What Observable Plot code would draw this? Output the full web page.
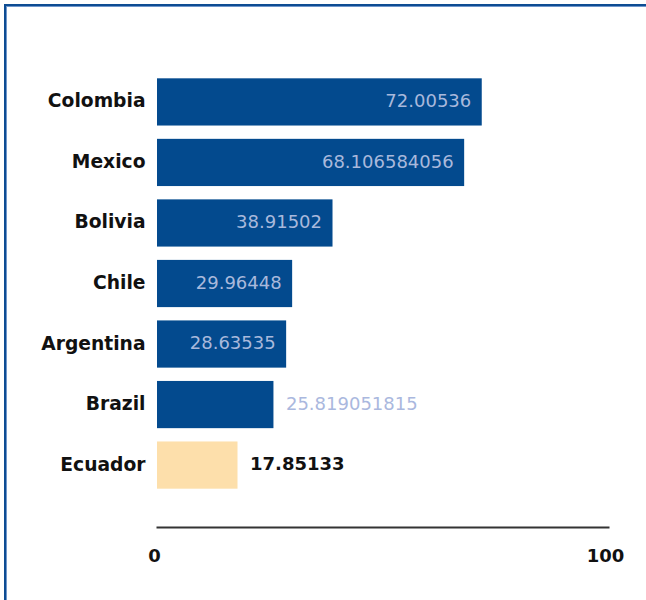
<!DOCTYPE html>
<html>
<head>
<meta charset="utf-8">
<script src="https://cdn.jsdelivr.net/npm/d3@7"></script>
<script src="https://cdn.jsdelivr.net/npm/@observablehq/plot@0.6"></script>
<style>
  html, body { margin: 0; padding: 0; background: #fff; }
  #wrap { position: relative; width: 646px; height: 600px; overflow: hidden; }
  #frame { position: absolute; left: 4px; top: 4px; width: 700px; height: 700px;
           border-top: 2px solid #0d4c93; border-left: 2px solid #0d4c93;
           box-shadow: inset 1px 1px 0 #6f97cc; }
  #chart { position: absolute; left: 0; top: 0; }
</style>
</head>
<body>
<div id="wrap"><div id="frame"></div><div id="chart"></div></div>
<script>
const categories = ["Colombia", "Mexico", "Bolivia", "Chile", "Argentina", "Brazil", "Ecuador"];
const values = [72.00536, 68.106584056, 38.91502, 29.96448, 28.63535, 25.819051815, 17.85133];
const highlight = "Ecuador";
const xTicks = [0, 100];
const xDomain = [0, 100];

const barColor = "#034a8e";
const highlightColor = "#fddfab";

const W = 646, H = 600, mL = 157, mR = 38;
const px = d3.scaleLinear(xDomain, [mL, W - mR]);

const data = categories.map((c, i) => ({
  country: c,
  value: values[i],
  label: String(values[i]),
  hi: c === highlight
}));
// label fits inside bar if bar is wide enough for the text
const fits = d => !d.hi && (px(d.value) - px(0)) > d.label.length * 10.5 + 20;
const inside = data.filter(fits);
const outsideNormal = data.filter(d => !fits(d) && !d.hi);
const outsideHi = data.filter(d => d.hi);

const chart = Plot.plot({
  width: W,
  height: H,
  marginLeft: mL,
  marginRight: mR,
  marginTop: 65,
  marginBottom: 98,
  style: { fontFamily: "DejaVu Sans", fontSize: "18px", background: "transparent", color: "#111" },
  x: { domain: xDomain, axis: null, label: null },
  y: { domain: categories, padding: 0.22, axis: null, label: null, round: false },
  color: { type: "identity" },
  marks: [
    Plot.barX(data, { x: "value", y: "country", fill: d => d.hi ? highlightColor : barColor }),
    Plot.axisY({ tickSize: 0, tickPadding: 12, fontWeight: "bold", fontSize: 18.7, label: null, dy: -1 }),
    Plot.axisX({ ticks: xTicks, tickSize: 0, tickPadding: 47, fontWeight: "bold", fontSize: 18, dx: -3, label: null }),
    Plot.frame({ anchor: "bottom", dy: 25, stroke: "#333", strokeWidth: 2 }),
    Plot.text(inside, { x: "value", y: "country", text: "label", textAnchor: "end", dx: -11, dy: -1, fill: "#a9b9dc", fontSize: 18 }),
    Plot.text(outsideNormal, { x: "value", y: "country", text: "label", textAnchor: "start", dx: 12, dy: -1, fill: "#aab8de", fontSize: 18 }),
    Plot.text(outsideHi, { x: "value", y: "country", text: "label", textAnchor: "start", dx: 12, dy: -1, fill: "#111", fontWeight: "bold", fontSize: 18 })
  ]
});
document.getElementById("chart").appendChild(chart);
</script>
</body>
</html>
